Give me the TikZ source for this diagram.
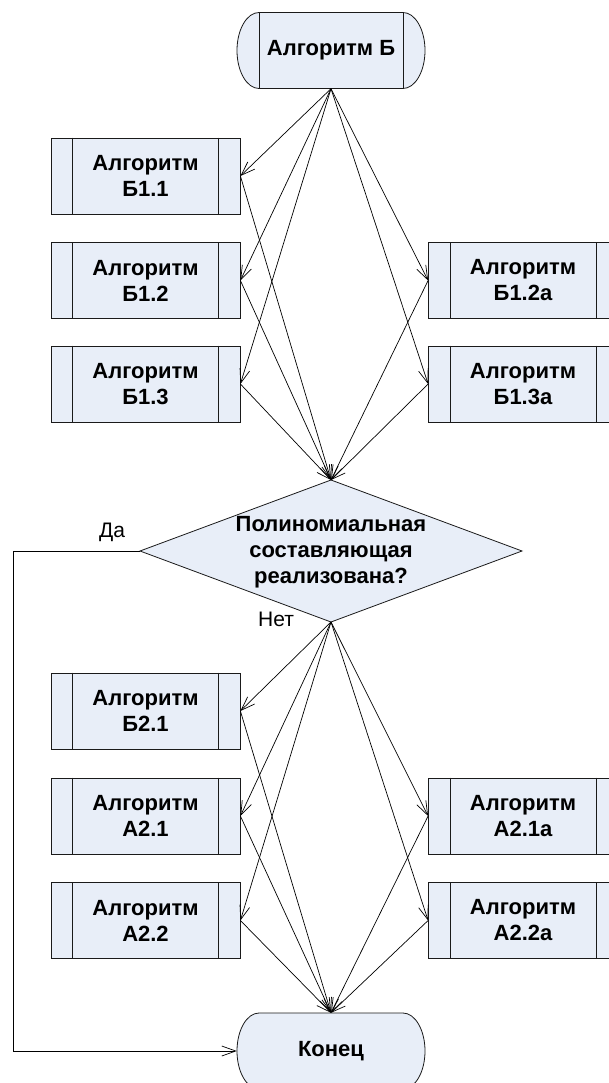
\documentclass[tikz,border=0pt]{standalone}
\usepackage{fontspec}
\setmainfont{Liberation Sans}
\usetikzlibrary{arrows.meta}
\definecolor{boxfill}{HTML}{E8EEF8}
\definecolor{linec}{HTML}{1A1A1A}
\newcommand\bxfont{\bfseries\fontsize{22}{26}\selectfont}
\newcommand\lbfont{\fontsize{21}{25}\selectfont}
\newcommand\termshape[2]{\draw[shapeline] (#1-72,#2-38) -- (#1+72,#2-38) arc[start angle=-90,end angle=90,x radius=22,y radius=38] -- (#1-72,#2+38) arc[start angle=90,end angle=270,x radius=22,y radius=38] -- cycle;}
\begin{document}
\begin{tikzpicture}[x=1pt,y=-1pt,
  shapeline/.style={draw=linec, fill=boxfill, line width=0.8pt},
  proc/.style={shapeline, rectangle, minimum width=189pt, minimum height=76pt, inner sep=0pt, align=center, font=\bxfont},
  innerline/.style={draw=linec, line width=0.8pt},
  term/.style={rectangle, minimum width=188pt, minimum height=76pt, inner sep=0pt, align=center, font=\bxfont},
  conn/.style={draw=black, line width=0.7pt, -{Straight Barb[length=14pt,width=10pt]}},
  lbl/.style={font=\lbfont, inner sep=0pt}]
\useasboundingbox (0,0) rectangle (609,1083);
\clip (0,0) rectangle (609,1083);

% start terminal
\termshape{331}{50.5}
\draw[innerline] (331-72,12.5) -- (331-72,88.5) (331+72,12.5) -- (331+72,88.5);
\node[term] (start) at (331,50.5) {Алгоритм Б};

% first group
\node[proc] (b11) at (145.5,176) {Алгоритм\\Б1.1};
\node[proc] (b12) at (145.5,280.5) {Алгоритм\\Б1.2};
\node[proc] (b13) at (145.5,384) {Алгоритм\\Б1.3};
\node[proc] (b12a) at (523,280.5) {Алгоритм\\Б1.2а};
\node[proc] (b13a) at (523,384) {Алгоритм\\Б1.3а};

% decision
\draw[shapeline] (331,480) coordinate (dtop) -- (522,551) coordinate (dright) -- (331,622) coordinate (dbot) -- (140,551) coordinate (dleft) -- cycle;
\node[font=\bxfont, align=center, inner sep=0pt] (dec) at (331,552) {Полиномиальная\\составляющая\\реализована?};

% second group
\node[proc] (b21) at (145.5,711) {Алгоритм\\Б2.1};
\node[proc] (a21) at (145.5,816) {Алгоритм\\А2.1};
\node[proc] (a22) at (145.5,920.5) {Алгоритм\\А2.2};
\node[proc] (a21a) at (523,816) {Алгоритм\\А2.1а};
\node[proc] (a22a) at (523,920.5) {Алгоритм\\А2.2а};

% inner lines of process boxes
\foreach \n in {b11,b12,b13,b12a,b13a,b21,a21,a22,a21a,a22a}
  \draw[innerline] ([xshift=22pt]\n.north west) -- ([xshift=22pt]\n.south west)
                   ([xshift=-22pt]\n.north east) -- ([xshift=-22pt]\n.south east);

% end terminal
\termshape{331}{1051}
\node[term] (end) at (331,1051) {Конец};

% connectors, group 1
\foreach \n in {b11,b12,b13} {\draw[conn] (start.south) -- (\n.east); \draw[conn] (\n.east) -- (dtop);}
\foreach \n in {b12a,b13a} {\draw[conn] (start.south) -- (\n.west); \draw[conn] (\n.west) -- (dtop);}
% connectors, group 2
\foreach \n in {b21,a21,a22} {\draw[conn] (dbot) -- (\n.east); \draw[conn] (\n.east) -- (end.north);}
\foreach \n in {a21a,a22a} {\draw[conn] (dbot) -- (\n.west); \draw[conn] (\n.west) -- (end.north);}

% yes branch
\coordinate (ya) at (13,551);
\coordinate (yb) at (13,1051);
\draw[conn] (dleft) -- (ya) -- (yb) -- (end.west);
\node[lbl] (da) at (112,532) {Да};
\node[lbl] (net) at (276,619) {Нет};
\end{tikzpicture}
\end{document}
